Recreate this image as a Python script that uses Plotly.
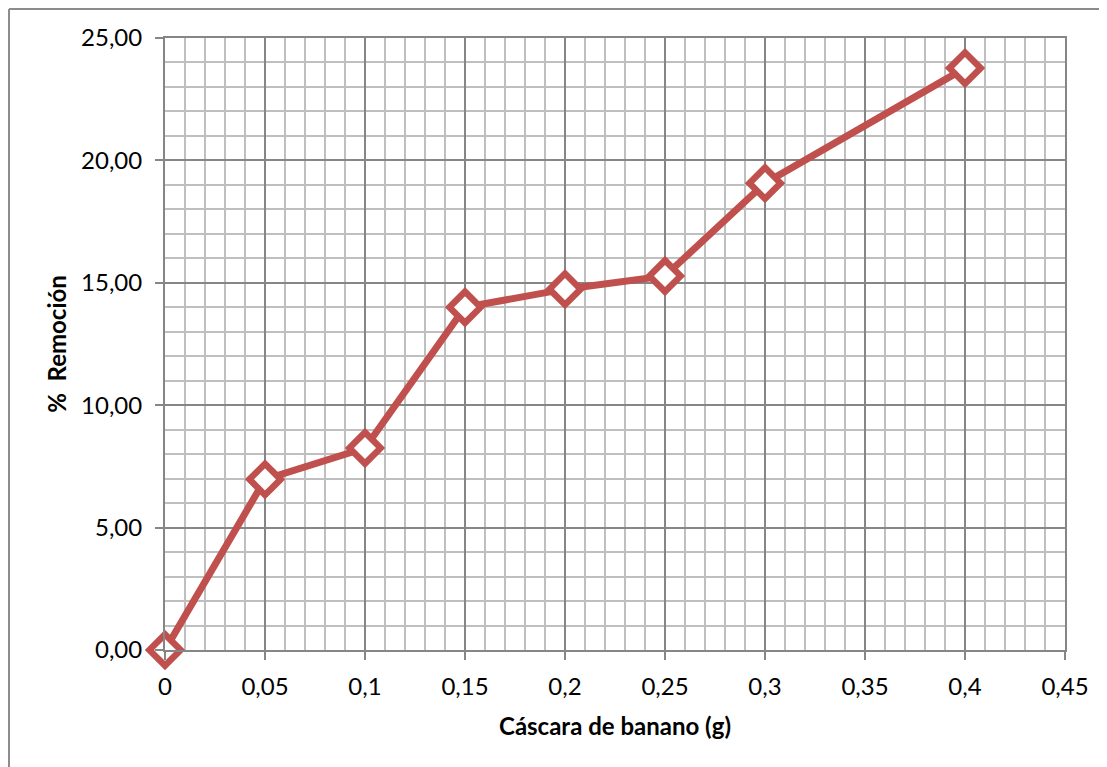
import plotly.graph_objects as go

cascara_g = [0, 0.05, 0.1, 0.15, 0.2, 0.25, 0.3, 0.4]
remocion_pct = [0.0, 6.97, 8.25, 14.0, 14.74, 15.28, 19.07, 23.77]

x_title = "Cáscara de banano (g)"
y_title = "%  Remoción"

FONT = "Lato, 'Open Sans', sans-serif"
RED = "#C0504D"
FS = 24

fig = go.Figure()
fig.add_trace(go.Scatter(
    x=cascara_g, y=remocion_pct, mode="lines+markers",
    line=dict(color=RED, width=7),
    marker=dict(symbol="diamond", size=24, color="white",
                line=dict(color=RED, width=6.5)),
    cliponaxis=False, showlegend=False,
))

axis_common = dict(
    showline=True, linecolor="#868686", linewidth=2, mirror=True,
    gridcolor="#868686", gridwidth=1.5,
    ticks="outside", ticklen=8, tickcolor="#868686", tickwidth=2,
    zeroline=False,
    tickfont=dict(family=FONT, size=FS, color="#000"),
)

fig.update_xaxes(
    range=[0, 0.45], dtick=0.05, tick0=0,
    minor=dict(dtick=0.01, showgrid=True, gridcolor="#bfbfbf", gridwidth=1.5, ticks=""),
    title=dict(text=f"<b>{x_title}</b>", font=dict(family=FONT, size=FS, color="#000"), standoff=19),
    ticklabelstandoff=6,
    **axis_common,
)
fig.update_yaxes(
    range=[0, 25], dtick=5, tick0=0, tickformat=".2f",
    minor=dict(dtick=1, showgrid=True, gridcolor="#bfbfbf", gridwidth=1.5, ticks=""),
    title=dict(text=f"<b>{y_title}</b>", font=dict(family=FONT, size=FS, color="#000"), standoff=8),
    ticklabelstandoff=8,
    **axis_common,
)

# figure is drawn 8px in from the page corner; plot area 900x612
L, T, PW, PH = 157, 30, 900, 612
def px(lx):
    return (lx - L) / PW
def py(ly):
    return (T + PH - ly) / PH

fig.add_shape(type="line", xref="paper", yref="paper",
              x0=px(1), x1=px(1099), y0=py(1), y1=py(1),
              line=dict(color="#8c8c8c", width=2))
fig.add_shape(type="line", xref="paper", yref="paper",
              x0=px(1), x1=px(1), y0=py(1), y1=py(759),
              line=dict(color="#8c8c8c", width=2))

fig.update_layout(
    width=1099, height=759,
    margin=dict(l=L, r=42, t=T, b=117),
    paper_bgcolor="white", plot_bgcolor="white",
    separators=",.",
    font=dict(family=FONT),
)

fig.write_html("out.html")
